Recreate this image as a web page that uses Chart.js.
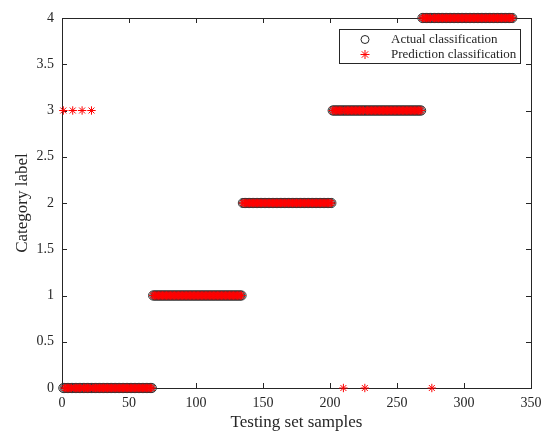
<!DOCTYPE html>
<html>
<head>
<meta charset="utf-8">
<script src="https://cdn.jsdelivr.net/npm/chart.js@4/dist/chart.umd.min.js"></script>
<style>
  html, body { margin: 0; padding: 0; background: #fff; }
</style>
</head>
<body>
<canvas id="chart" width="544" height="434"></canvas>
<script>
// class label of each block of testing samples
const classLabels = [0, 1, 2, 3, 4];
const classFirstSample = [1, 68, 135, 202, 269];
const classLastSample = [67, 134, 201, 268, 336];

// samples where the prediction differs from the actual class
const wrongSamples = [1, 8, 15, 22, 210, 226, 276];
const wrongPredicted = [3, 3, 3, 3, 0, 0, 0];

const xTicks = [0, 50, 100, 150, 200, 250, 300, 350];
const yTicks = [0, 0.5, 1, 1.5, 2, 2.5, 3, 3.5, 4];

const serif = 'Liberation Serif';
const ink = '#262626';

const actual = [];
classLabels.forEach(function (c, i) {
  for (let s = classFirstSample[i]; s <= classLastSample[i]; s++) {
    actual.push({ x: s, y: c });
  }
});
const predicted = actual.map(function (p) {
  const k = wrongSamples.indexOf(p.x);
  return { x: p.x, y: k >= 0 ? wrongPredicted[k] : p.y };
});

function drawStar(ctx, x, y, r) {
  const d = r * Math.SQRT1_2;
  ctx.beginPath();
  ctx.moveTo(x - r, y); ctx.lineTo(x + r, y);
  ctx.moveTo(x, y - r); ctx.lineTo(x, y + r);
  ctx.moveTo(x - d, y - d); ctx.lineTo(x + d, y + d);
  ctx.moveTo(x - d, y + d); ctx.lineTo(x + d, y - d);
  ctx.stroke();
}

// matlab style box with inward ticks
const boxPlugin = {
  id: 'box',
  beforeDatasetsDraw(chart) {
    const ctx = chart.ctx;
    const a = chart.chartArea;
    const xs = chart.scales.x, ys = chart.scales.y;
    ctx.save();
    ctx.strokeStyle = ink;
    ctx.lineWidth = 1;
    ctx.strokeRect(Math.round(a.left) + 0.5, Math.round(a.top) + 0.5,
      Math.round(a.right - a.left), Math.round(a.bottom - a.top));
    ctx.beginPath();
    xTicks.forEach(function (v) {
      const px = Math.round(xs.getPixelForValue(v)) + 0.5;
      ctx.moveTo(px, a.bottom); ctx.lineTo(px, a.bottom - 5);
      ctx.moveTo(px, a.top); ctx.lineTo(px, a.top + 5);
    });
    yTicks.forEach(function (v) {
      const py = Math.round(ys.getPixelForValue(v)) + 0.5;
      ctx.moveTo(a.left, py); ctx.lineTo(a.left + 5, py);
      ctx.moveTo(a.right, py); ctx.lineTo(a.right - 5, py);
    });
    ctx.stroke();
    ctx.restore();
  },
  afterDraw(chart) {
    const ctx = chart.ctx;
    ctx.save();
    ctx.fillStyle = '#fff';
    ctx.strokeStyle = ink;
    ctx.lineWidth = 1;
    ctx.fillRect(339, 29, 181, 34);
    ctx.strokeRect(339.5, 29.5, 181, 34);
    ctx.beginPath();
    ctx.arc(365, 39.5, 4, 0, Math.PI * 2);
    ctx.stroke();
    ctx.strokeStyle = 'red';
    drawStar(ctx, 365, 54.5, 4.5);
    ctx.fillStyle = ink;
    ctx.font = '13px "' + serif + '"';
    ctx.textBaseline = 'middle';
    ctx.fillText(chart.data.datasets[0].label, 391, 39.5);
    ctx.fillText(chart.data.datasets[1].label, 391, 54.5);
    ctx.restore();
  }
};

new Chart(document.getElementById('chart'), {
  type: 'scatter',
  data: {
    datasets: [{
      label: 'Actual classification',
      data: actual,
      pointStyle: 'circle',
      pointRadius: 4.6,
      borderColor: '#333',
      backgroundColor: 'rgba(0,0,0,0)',
      borderWidth: 1,
      clip: false,
      order: 2
    }, {
      label: 'Prediction classification',
      data: predicted,
      pointStyle: 'star',
      pointRadius: 4.2,
      borderColor: '#ff0000',
      backgroundColor: '#ff0000',
      borderWidth: 1,
      clip: false,
      order: 1
    }]
  },
  options: {
    responsive: false,
    animation: false,
    layout: { padding: { top: 18, right: 13, left: 0, bottom: 0 } },
    plugins: { legend: { display: false }, tooltip: { enabled: false } },
    scales: {
      x: {
        type: 'linear', min: 0, max: 350,
        grid: { display: false, drawTicks: false },
        border: { display: false },
        ticks: { stepSize: 50, color: ink, padding: 7, maxRotation: 0,
          font: { family: serif, size: 14 } },
        title: { display: true, text: 'Testing set samples', color: ink,
          font: { family: serif, size: 17 }, padding: { top: 0, bottom: 1 } },
        afterFit(s) { s.height = 46; s.paddingLeft = 0; s.paddingRight = 0; }
      },
      y: {
        min: 0, max: 4,
        grid: { display: false, drawTicks: false },
        border: { display: false },
        ticks: { stepSize: 0.5, color: ink, padding: 8,
          font: { family: serif, size: 14 },
          callback: function (v) { return String(v); } },
        title: { display: true, text: 'Category label', color: ink,
          font: { family: serif, size: 17 }, padding: { top: 12, bottom: 0 } },
        afterFit(s) { s.width = 62; s.paddingTop = 0; s.paddingBottom = 0; }
      }
    }
  },
  plugins: [boxPlugin]
});
</script>
</body>
</html>
